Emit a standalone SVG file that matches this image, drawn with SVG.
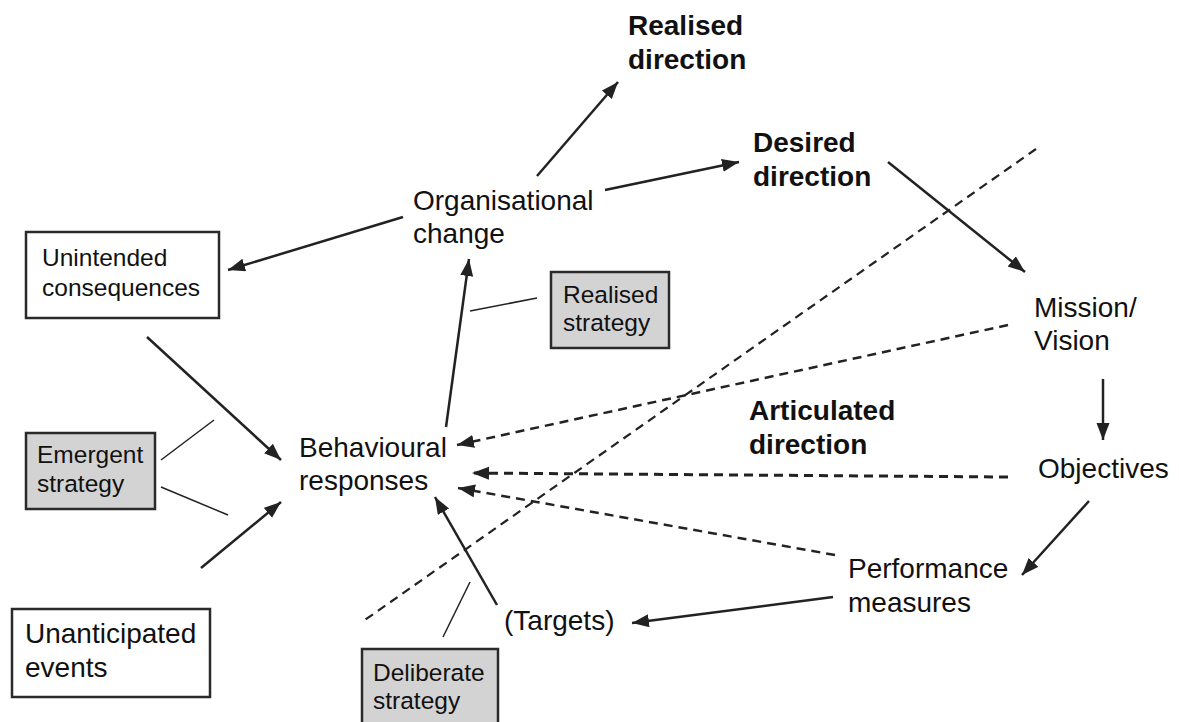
<svg xmlns="http://www.w3.org/2000/svg" width="1179" height="722" viewBox="0 0 1179 722">
<style>
text{font-family:"Liberation Sans",Arial,sans-serif;fill:#111}
.l{font-size:28px}
.s{font-size:24.5px}
.b{font-size:28px;font-weight:bold}
.box{fill:#fff;stroke:#2a2a2a;stroke-width:2.5}
.gbox{fill:#d3d3d3;stroke:#2a2a2a;stroke-width:2.5}
.a{stroke:#222;stroke-width:2.5;fill:none;marker-end:url(#ah)}
.d{stroke:#222;stroke-width:2.5;fill:none;stroke-dasharray:9 6;marker-end:url(#ah)}
.dn{stroke:#222;stroke-width:2.2;fill:none;stroke-dasharray:9 6}
.t{stroke:#222;stroke-width:1.5;fill:none}
</style>
<defs>
<marker id="ah" markerUnits="userSpaceOnUse" markerWidth="18" markerHeight="14" refX="17" refY="6.5" orient="auto">
<path d="M0,0 L17,6.5 L0,13 Z" fill="#222"/>
</marker>
</defs>
<rect width="1179" height="722" fill="#fff"/>
<g id="connectors">
<line class="a" x1="537" y1="176" x2="618" y2="82"/>
<line class="a" x1="605" y1="190" x2="739" y2="162"/>
<line class="a" x1="403" y1="217" x2="228" y2="270"/>
<line class="a" x1="888" y1="162" x2="1025" y2="272"/>
<line class="a" x1="1103" y1="379" x2="1103" y2="440"/>
<line class="a" x1="1089" y1="501" x2="1022" y2="575"/>
<line class="a" x1="833" y1="597" x2="632" y2="623"/>
<line class="a" x1="497" y1="605" x2="435" y2="497"/>
<line class="a" x1="446" y1="427" x2="469" y2="259"/>
<line class="a" x1="147" y1="337" x2="281" y2="460"/>
<line class="a" x1="201" y1="568" x2="281" y2="502"/>
<line class="t" x1="161" y1="460" x2="214" y2="420"/>
<line class="t" x1="161" y1="487" x2="228" y2="515"/>
<line class="t" x1="470" y1="311" x2="537" y2="298"/>
<line class="t" x1="443" y1="637" x2="470" y2="582"/>
<line class="dn" x1="1036" y1="149" x2="362" y2="622"/>
<line class="d" x1="1008" y1="325" x2="457" y2="445"/>
<line class="d" x1="1008" y1="477" x2="472" y2="473" style="stroke-width:3"/>
<line class="d" x1="835" y1="555" x2="458" y2="488"/>
</g>
<g id="realised-direction"><text class="b" x="628" y="35">Realised</text><text class="b" x="628" y="69">direction</text></g>
<g id="desired-direction"><text class="b" x="753" y="152">Desired</text><text class="b" x="753" y="186">direction</text></g>
<g id="articulated-direction"><text class="b" x="749" y="420">Articulated</text><text class="b" x="749" y="454">direction</text></g>
<g id="organisational-change"><text class="l" x="413" y="210">Organisational</text><text class="l" x="413" y="243">change</text></g>
<g id="unintended-consequences"><rect class="box" x="26" y="232" width="193" height="86"/><text class="s" x="42" y="266">Unintended</text><text class="s" x="42" y="296">consequences</text></g>
<g id="realised-strategy"><rect class="gbox" x="551" y="272" width="118" height="76"/><text class="s" x="563" y="303">Realised</text><text class="s" x="563" y="331">strategy</text></g>
<g id="mission-vision"><text class="l" x="1034" y="317">Mission/</text><text class="l" x="1034" y="350">Vision</text></g>
<g id="emergent-strategy"><rect class="gbox" x="26" y="433" width="129" height="76"/><text class="s" x="37" y="463">Emergent</text><text class="s" x="37" y="492">strategy</text></g>
<g id="behavioural-responses"><text class="l" x="299" y="457">Behavioural</text><text class="l" x="299" y="490">responses</text></g>
<g id="objectives"><text class="l" x="1038" y="478">Objectives</text></g>
<g id="performance-measures"><text class="l" x="848" y="578">Performance</text><text class="l" x="848" y="612">measures</text></g>
<g id="targets"><text class="l" x="504" y="630">(Targets)</text></g>
<g id="unanticipated-events"><rect class="box" x="12" y="609" width="198" height="88"/><text class="l" x="25" y="643">Unanticipated</text><text class="l" x="25" y="677">events</text></g>
<g id="deliberate-strategy"><rect class="gbox" x="362" y="649" width="136" height="80"/><text class="s" x="373" y="681">Deliberate</text><text class="s" x="373" y="709">strategy</text></g>
</svg>
